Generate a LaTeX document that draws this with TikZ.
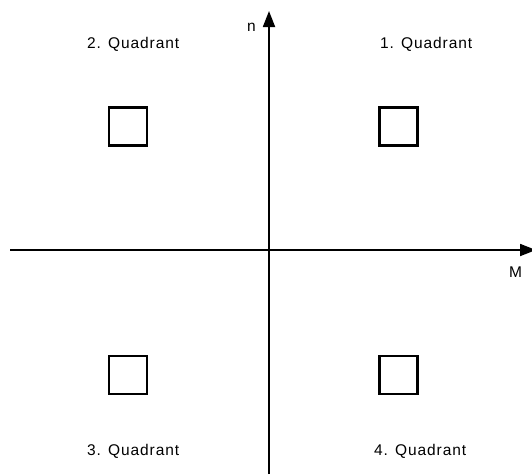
\documentclass[tikz,border=0pt]{standalone}
\usepackage{fontspec}
\setmainfont{Liberation Sans}[LetterSpace=6]
\usetikzlibrary{arrows.meta}
\begin{document}
\begin{tikzpicture}[x=1pt,y=-1pt,
  axis/.style={line width=1.8pt,-{Triangle[length=16pt,width=12pt]}},
  qbox/.style={draw,line width=2.4pt,minimum size=38pt,inner sep=0pt},
  qlabel/.style={font=\fontsize{15.5}{18}\selectfont,inner sep=0pt,anchor=base west}]
\useasboundingbox (0,0) rectangle (532,474);
\coordinate (ys) at (269,474);
\coordinate (ye) at (269,11);
\coordinate (xs) at (10,250);
\coordinate (xe) at (536,250);
\draw[axis] (ys) -- (ye);
\draw[axis] (xs) -- (xe);
\node[qlabel] (n) at (247,31) {n};
\node[qlabel] (M) at (509,277) {M};
\node[qbox] (b2) at (128,126.5) {};
\node[qbox] (b1) at (398.5,126.5) {};
\node[qbox] (b3) at (128,375) {};
\node[qbox] (b4) at (398.5,375) {};
\node[qlabel] (l2) at (87,48) {2. Quadrant};
\node[qlabel] (l1) at (380,48) {1. Quadrant};
\node[qlabel] (l3) at (87,455) {3. Quadrant};
\node[qlabel] (l4) at (374,455) {4. Quadrant};
\end{tikzpicture}
\end{document}
